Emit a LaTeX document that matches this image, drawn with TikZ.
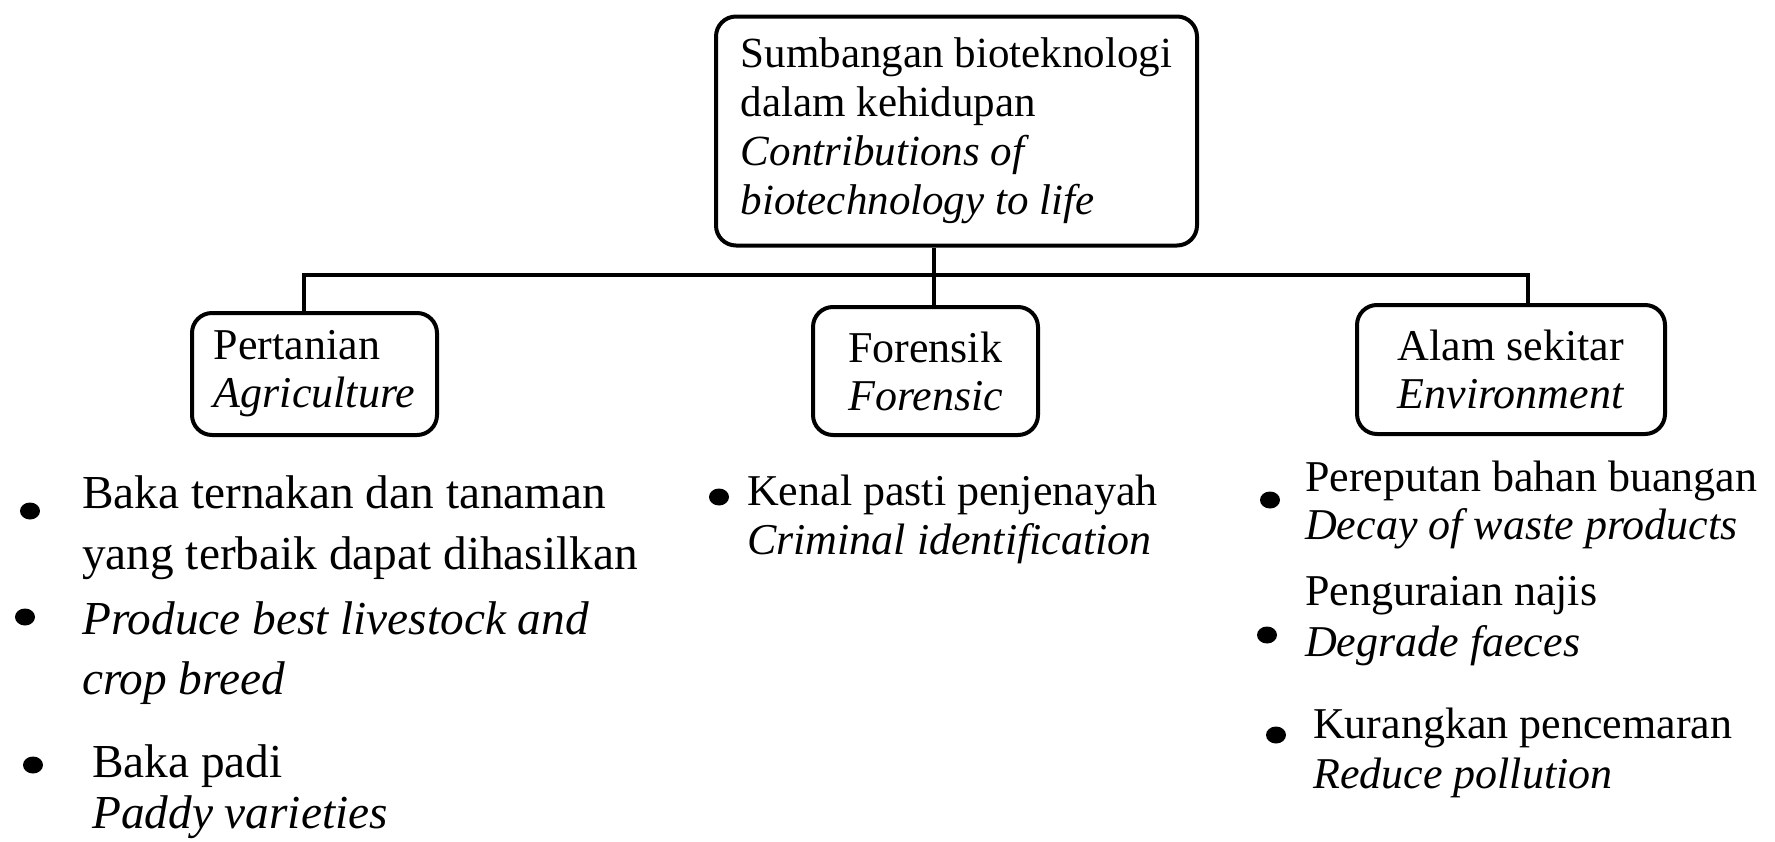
\documentclass[tikz,border=0pt]{standalone}
\usepackage{fontspec}
\setmainfont{Liberation Serif}
\usetikzlibrary{shapes.geometric}
\begin{document}
\begin{tikzpicture}[x=1pt,y=-1pt,
  box/.style={draw, line width=4pt, rounded corners=20pt, align=left, inner sep=0pt,
              font=\fontsize{44}{48}\selectfont},
  link/.style={line width=4pt},
  txtL/.style={anchor=base west, inner sep=0pt, font=\fontsize{47.3}{55}\selectfont},
  txtR/.style={anchor=base west, inner sep=0pt, font=\fontsize{44}{48}\selectfont},
  dot/.style={ellipse, fill=black, inner sep=0pt, minimum width=20pt, minimum height=17pt}]
\useasboundingbox (0,0) rectangle (1775,841);
\fill[white] (0,0) rectangle (1775,841);

% boxes
\node[box, minimum width=481pt, minimum height=229pt, font=\fontsize{43}{49}\selectfont]
  (top) at (956.5,131) {Sumbangan bioteknologi\\dalam kehidupan\\\textit{Contributions of}\\\textit{biotechnology to life}};
\node[box, minimum width=245pt, minimum height=122pt] (pert) at (314.5,374) {Pertanian\\\textit{Agriculture}};
\node[box, minimum width=225pt, minimum height=128pt] (fore) at (925.5,371) {Forensik\\\textit{Forensic}};
\node[box, minimum width=308pt, minimum height=129pt] (alam) at (1511,369.5) {Alam sekitar\\\textit{Environment}};

% connectors
\coordinate (bL) at (304,275);
\coordinate (bM) at (934,275);
\coordinate (bR) at (1528,275);
\draw[link] (bL |- pert.north) -- (bL) -- (bR) -- (bR |- alam.north);
\draw[link] (bM |- top.south) -- (bM |- fore.north);

% left column
\node[dot] (dl1) at (30,511) {};
\node[txtL] (l1a) at (82,508) {Baka ternakan dan tanaman};
\node[txtL] (l1b) at (82,569) {yang terbaik dapat dihasilkan};
\node[dot] (dl2) at (25,617) {};
\node[txtL] (l2a) at (82,634) {\itshape Produce best livestock and};
\node[txtL] (l2b) at (82,694) {\itshape crop breed};
\node[dot] (dl3) at (33,765) {};
\node[txtL] (l3a) at (92,777) {Baka padi};
\node[txtL] (l3b) at (92,828) {\itshape Paddy varieties};

% middle column
\node[dot] (dm1) at (719,497) {};
\node[txtR] (m1a) at (747,505) {Kenal pasti penjenayah};
\node[txtR] (m1b) at (747,554) {\itshape Criminal identification};

% right column
\node[dot] (dr1) at (1270,500) {};
\node[txtR] (r1a) at (1305,491) {Pereputan bahan buangan};
\node[txtR] (r1b) at (1305,539) {\itshape Decay of waste products};
\node[dot] (dr2) at (1267,635) {};
\node[txtR] (r2a) at (1305,605) {Penguraian najis};
\node[txtR] (r2b) at (1305,656) {\itshape Degrade faeces};
\node[dot] (dr3) at (1276,735) {};
\node[txtR] (r3a) at (1313,738) {Kurangkan pencemaran};
\node[txtR] (r3b) at (1313,788) {\itshape Reduce pollution};
\end{tikzpicture}
\end{document}
